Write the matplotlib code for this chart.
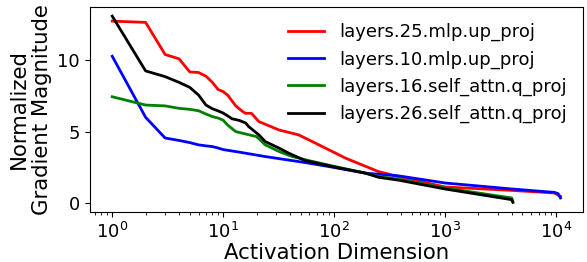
import matplotlib
matplotlib.use('Agg')
import matplotlib.pyplot as plt

# rank -> normalized gradient magnitude
red_rank = [1, 2, 3, 4, 5, 6, 7, 8, 9, 10, 11, 13, 15, 16, 18, 21, 32, 48, 68, 127, 251, 380, 1000, 4000, 9700, 11008]
red_val = [12.74, 12.65, 10.4, 10.1, 9.18, 9.14, 8.88, 8.45, 7.95, 7.8, 7.55, 6.8, 6.4, 6.28, 6.28, 5.7, 5.11, 4.77, 4.19, 3.14, 2.2, 1.85, 1.12, 0.88, 0.7, 0.46]

blue_rank = [1, 2, 3, 4, 5, 6, 7, 8, 9, 10, 14, 24, 55, 96, 192, 380, 1000, 4000, 9700, 10500, 11008]
blue_val = [10.28, 6.0, 4.55, 4.38, 4.23, 4.07, 4.0, 3.95, 3.85, 3.74, 3.56, 3.25, 2.83, 2.51, 2.09, 1.9, 1.4, 0.98, 0.74, 0.65, 0.35]

green_rank = [1, 2, 3, 4, 5, 6, 7, 8, 9, 10, 11, 13, 15, 20, 24, 32, 42, 59, 96, 192, 251, 380, 1000, 4000, 4096]
green_val = [7.44, 6.86, 6.8, 6.63, 6.56, 6.46, 6.23, 6.05, 5.95, 5.8, 5.45, 5.0, 4.88, 4.65, 4.07, 3.6, 3.25, 2.97, 2.6, 2.09, 1.85, 1.67, 1.05, 0.35, 0.11]

black_rank = [1, 2, 3, 4, 5, 6, 7, 8, 9, 10, 11, 12, 14, 16, 17, 21, 24, 32, 39, 55, 96, 192, 251, 380, 1000, 4000, 4096]
black_val = [13.09, 9.25, 8.85, 8.45, 8.1, 7.56, 6.86, 6.6, 6.45, 6.3, 6.1, 5.9, 5.78, 5.6, 5.35, 4.77, 4.3, 3.84, 3.49, 2.97, 2.55, 2.09, 1.8, 1.6, 0.98, 0.23, 0.04]

fig, ax = plt.subplots(figsize=(5.87, 2.62), dpi=100)
fig.subplots_adjust(left=0.153, right=0.993, top=0.974, bottom=0.192)

ax.plot(red_rank, red_val, color='red', lw=2, label='layers.25.mlp.up_proj')
ax.plot(blue_rank, blue_val, color='blue', lw=2, label='layers.10.mlp.up_proj')
ax.plot(green_rank, green_val, color='green', lw=2, label='layers.16.self_attn.q_proj')
ax.plot(black_rank, black_val, color='black', lw=2, label='layers.26.self_attn.q_proj')

ax.set_xscale('log')
ax.set_yticks([0, 5, 10])
ax.tick_params(labelsize=13)
ax.set_xlabel('Activation Dimension', fontsize=15.3, labelpad=1)
ax.set_ylabel('Normalized\nGradient Magnitude', fontsize=15.3, labelpad=4)
ax.legend(loc='upper right', fontsize=13, frameon=False)

fig.savefig('out.png', dpi=100)
